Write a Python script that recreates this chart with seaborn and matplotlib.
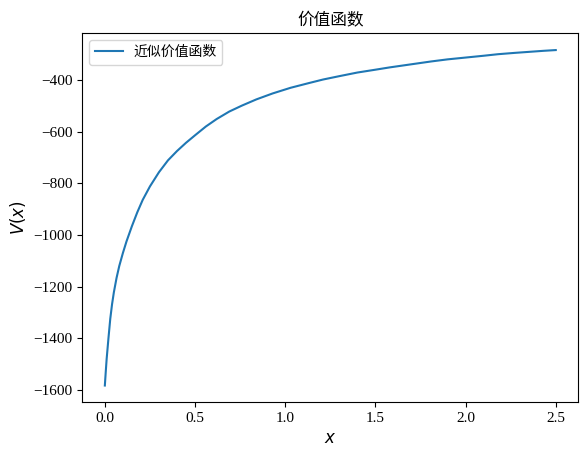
import matplotlib
matplotlib.use("Agg")
import matplotlib.pyplot as plt
import seaborn as sns
import pandas as pd

# values
x_vals = [0.0, 0.005, 0.01, 0.02, 0.03, 0.04, 0.05, 0.065, 0.08, 0.10,
          0.12, 0.15, 0.18, 0.21, 0.25, 0.30, 0.35, 0.40, 0.45, 0.50,
          0.56, 0.62, 0.69, 0.76, 0.84, 0.93, 1.03, 1.13, 1.21, 1.30,
          1.40, 1.50, 1.58, 1.70, 1.81, 1.90, 2.00, 2.10, 2.18, 2.27,
          2.35, 2.43, 2.5]
v_vals = [-1583, -1530, -1480, -1400, -1325, -1268, -1222, -1166, -1120, -1070,
          -1025, -966, -912, -864, -812, -757, -711, -675, -643, -614,
          -580, -551, -522, -499, -475, -452, -430, -412, -398, -385,
          -371, -360, -351, -339, -328, -320, -313, -306, -300, -295,
          -291, -287, -284]
series_name = "近似价值函数"

plt.rcParams['font.family'] = ['Liberation Serif', 'Noto Sans CJK SC', 'DejaVu Sans']
plt.rcParams['mathtext.fontset'] = 'dejavusans'
plt.rcParams['axes.unicode_minus'] = True

df = pd.DataFrame({'x': x_vals, 'V': v_vals, 'name': series_name})

fig = plt.figure(figsize=(5.87, 4.58), dpi=100)
ax = fig.add_axes([0.1402, 0.1216, 0.845, 0.8057])
sns.lineplot(data=df, x='x', y='V', hue='name', palette=['#1f77b4'], ax=ax,
             linewidth=1.5, estimator=None, sort=True)

ax.set_xlabel('$x$', fontsize=12)
ax.set_ylabel('$V(x)$', fontsize=12)
ax.set_title('价值函数', fontsize=12)
ax.set_xticks([0.0, 0.5, 1.0, 1.5, 2.0, 2.5])
ax.set_yticks([-1600, -1400, -1200, -1000, -800, -600, -400])
ax.tick_params(labelsize=11)
ax.legend(loc='upper left', fontsize=10, title=None)

fig.savefig('out.png', dpi=100)
